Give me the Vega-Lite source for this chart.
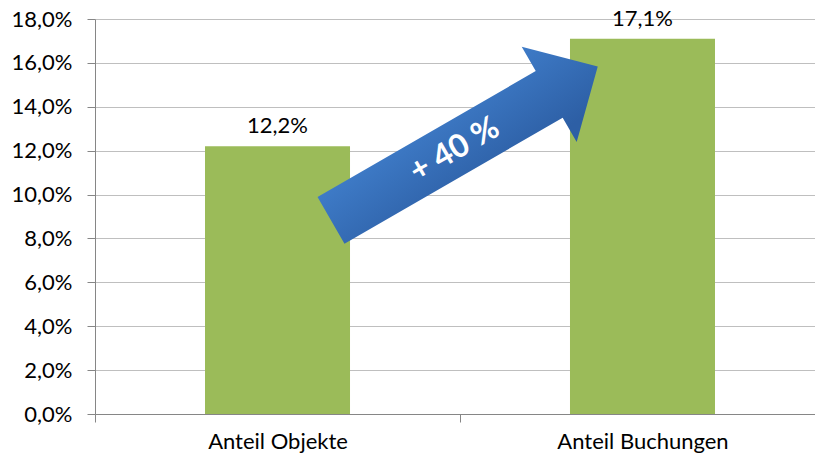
{
  "$schema": "https://vega.github.io/schema/vega-lite/v6.json",
  "width": 720,
  "height": 395,
  "autosize": {"type": "none"},
  "padding": {"left": 95, "top": 19, "right": 0, "bottom": 45},
  "background": "white",
  "config": {
    "view": {"stroke": null},
    "font": "Lato",
    "locale": {"number": {"decimal": ",", "thousands": ".", "grouping": [3], "currency": ["", " €"]}}
  },
  "layer": [
    {
      "data": {"values": [
        {"kategorie": "Anteil Objekte", "anteil": 0.122},
        {"kategorie": "Anteil Buchungen", "anteil": 0.171}
      ]},
      "encoding": {
        "x": {
          "field": "kategorie", "type": "nominal", "sort": null,
          "scale": {"range": [0, 730], "paddingInner": 0.6027, "paddingOuter": 0.3014},
          "axis": {
            "title": null, "labelAngle": 0, "labelFontSize": 22, "labelColor": "#000000",
            "labelPadding": 9, "domainColor": "#868686", "tickColor": "#868686", "tickSize": 8,
            "bandPosition": 0.5, "tickOffset": -182.5, "labelOffset": 182.5, "grid": false
          }
        },
        "y": {
          "field": "anteil", "type": "quantitative",
          "scale": {"domain": [0, 0.18], "nice": false},
          "axis": {
            "title": null, "format": ".1%",
            "values": [0, 0.02, 0.04, 0.06, 0.08, 0.1, 0.12, 0.14, 0.16, 0.18],
            "labelFontSize": 22, "labelColor": "#000000", "labelPadding": 15,
            "domainColor": "#868686", "tickColor": "#868686", "tickSize": 8,
            "gridColor": "#BFBFBF", "gridWidth": 1
          }
        }
      },
      "layer": [
        {"mark": {"type": "bar", "color": "#9BBB59"}},
        {
          "mark": {"type": "text", "dy": -13, "baseline": "alphabetic", "fontSize": 22, "color": "#000000"},
          "encoding": {"text": {"field": "anteil", "type": "quantitative", "format": ".1%"}}
        }
      ]
    },
    {
      "data": {"values": [{"label": "+ 40 %"}]},
      "layer": [
        {
          "mark": {
            "type": "point",
            "shape": "M-1,-0.175L0.636,-0.175L0.636,-0.357L1,0L0.636,0.357L0.636,0.175L-1,0.175Z",
            "size": 94864,
            "angle": 330,
            "filled": true,
            "opacity": 1,
            "strokeWidth": 0,
            "fill": {"gradient": "linear", "x1": 0, "y1": 0, "x2": 0.3, "y2": 1,
              "stops": [{"offset": 0, "color": "#4383D1"}, {"offset": 1, "color": "#2D5FA5"}]}
          },
          "encoding": {
            "x": {"datum": 0.512, "type": "quantitative", "scale": {"domain": [-0.5, 1.5], "range": [0, 730]}, "axis": null},
            "y": {"datum": 0.1233, "type": "quantitative"}
          }
        },
        {
          "mark": {"type": "text", "angle": 330, "fontSize": 32, "fontWeight": "bold", "color": "white", "align": "center", "baseline": "middle"},
          "encoding": {
            "x": {"datum": 0.485, "type": "quantitative", "scale": {"domain": [-0.5, 1.5], "range": [0, 730]}, "axis": null},
            "y": {"datum": 0.1205, "type": "quantitative"},
            "text": {"field": "label"}
          }
        }
      ]
    }
  ],
  "resolve": {"scale": {"x": "independent"}}
}
